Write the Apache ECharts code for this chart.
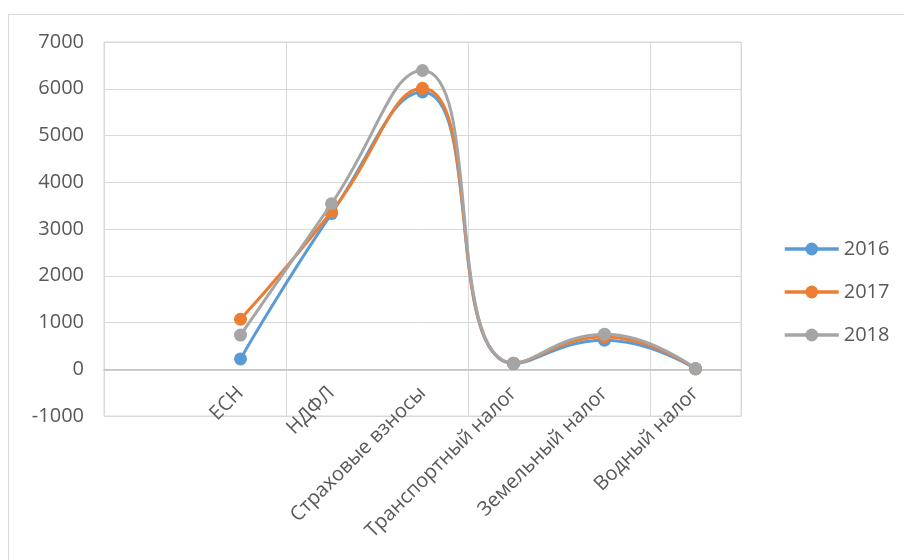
<!DOCTYPE html>
<html>
<head>
<meta charset="utf-8">
<script src="https://cdn.jsdelivr.net/npm/echarts@6/dist/echarts.min.js"></script>
<style>
html,body{margin:0;padding:0;background:#fff;}
#chart{width:904px;height:560px;}
</style>
</head>
<body>
<div id="chart"></div>
<script>
var categories = ['', 'ЕСН', 'НДФЛ', 'Страховые взносы', 'Транспортный налог', 'Земельный налог', 'Водный налог'];
var seriesNames = ['2016', '2017', '2018'];
var values2016 = [null, 220, 3330, 5930, 120, 620, 10];
var values2017 = [null, 1070, 3370, 6010, 130, 690, 10];
var values2018 = [null, 730, 3540, 6390, 130, 750, 10];
var yTicks = {min: -1000, max: 7000, interval: 1000};
var colors = ['#5B9BD5', '#ED7D31', '#A5A5A5'];
var allValues = [values2016, values2017, values2018];

var font = '"Open Sans", "Noto Sans", sans-serif';
var chart = echarts.init(document.getElementById('chart'), null, {renderer: 'canvas'});

var series = seriesNames.map(function (name, i) {
  return {
    name: name,
    type: 'line',
    xAxisIndex: 0,
    yAxisIndex: 0,
    data: allValues[i],
    smooth: 0.5,
    symbol: 'circle',
    symbolSize: 13,
    showSymbol: true,
    lineStyle: {width: 3, color: colors[i]},
    itemStyle: {color: colors[i]},
    z: 3 + i
  };
});

chart.setOption({
  animation: false,
  color: colors,
  graphic: [{
    type: 'rect',
    shape: {x: 8.5, y: 14.5, width: 1000, height: 600},
    style: {fill: 'none', stroke: '#d9d9d9', lineWidth: 1},
    silent: true,
    z: -10
  }],
  grid: [{
    left: 104, right: 163, top: 42, bottom: 144,
    containLabel: false,
    outerBoundsMode: 'none',
    show: true, borderColor: '#d9d9d9', borderWidth: 1
  }, {
    // label band: bottom edge sits on the zero line of the main value axis
    left: 104, right: 163, top: 42, bottom: 191,
    containLabel: false,
    outerBoundsMode: 'none',
    show: false
  }],
  legend: {
    orient: 'vertical',
    left: 778,
    top: 234,
    itemWidth: 54,
    itemHeight: 16,
    itemGap: 23,
    data: seriesNames,
    lineStyle: {width: 3.5},
    textStyle: {fontFamily: font, fontSize: 20, color: '#595959'}
  },
  xAxis: [{
    type: 'category',
    gridIndex: 0,
    data: categories,
    boundaryGap: true,
    axisLine: {show: true, onZero: true, lineStyle: {color: '#bfbfbf', width: 1.5}},
    axisTick: {show: false},
    splitLine: {show: true, lineStyle: {color: '#d9d9d9', width: 1}},
    axisLabel: {show: false},
    z: 2
  }, {
    type: 'category',
    gridIndex: 1,
    data: categories,
    boundaryGap: true,
    position: 'bottom',
    axisLine: {show: false},
    axisTick: {show: false},
    splitLine: {show: false},
    axisLabel: {
      rotate: 45,
      interval: 0,
      margin: 21,
      fontFamily: font,
      fontSize: 20,
      color: '#595959'
    }
  }],
  yAxis: [{
    type: 'value',
    gridIndex: 0,
    min: yTicks.min,
    max: yTicks.max,
    interval: yTicks.interval,
    axisLine: {show: false},
    axisTick: {show: false},
    splitLine: {lineStyle: {color: '#d9d9d9', width: 1}},
    axisLabel: {
      margin: 20,
      fontFamily: font,
      fontSize: 20,
      color: '#595959',
      formatter: function (v) { return String(v); }
    }
  }, {
    type: 'value',
    gridIndex: 1,
    show: false
  }],
  series: series
});
</script>
</body>
</html>
